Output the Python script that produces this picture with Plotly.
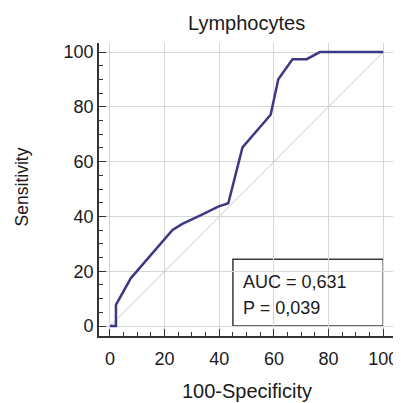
import plotly.graph_objects as go

# ROC curve data (100-Specificity, Sensitivity)
fpr = [0, 2.2, 2.2, 7.6, 22.9, 26.5, 33.5, 39.6, 43.3, 48.5, 58.8, 61.6, 66.8, 72.0, 76.8, 100]
sens = [0, 0, 7.7, 17.4, 35.1, 37.3, 40.6, 43.6, 44.8, 65.2, 77.1, 90.1, 97.4, 97.4, 100, 100]
diag = [0, 100]
tick_vals = [0, 20, 40, 60, 80, 100]
auc_text = "AUC = 0,631"
p_text = "P = 0,039"
title_text = "Lymphocytes"
x_title = "100-Specificity"
y_title = "Sensitivity"

FONT = "Liberation Sans, Arial, sans-serif"
TXT = "#1a1a1a"

# the page body has an 8px margin; figure coords = page coords - 8
OFF = 8
W, H = 401 - OFF, 403 - OFF
L, T = 99 - OFF, 43 - OFF
R = W - (395 - OFF)
B = H - (336 - OFF)
pw, ph = W - L - R, H - T - B

def px_x(page_x):
    return (page_x - OFF - L) / pw

def px_y(page_y):
    return (H - (page_y - OFF) - B) / ph

fig = go.Figure()
fig.add_trace(go.Scatter(x=diag, y=diag, mode="lines",
                         line=dict(color="#c8c8c8", width=1), hoverinfo="skip"))
fig.add_trace(go.Scatter(x=fpr, y=sens, mode="lines",
                         line=dict(color="#3d3a85", width=2.5)))

fig.add_shape(type="rect", x0=45, x1=100, y0=0, y1=24.4, xref="x", yref="y",
              line=dict(color="#3a3a3a", width=1.5), fillcolor="white", layer="below")
fig.add_annotation(x=48, y=16.2, xref="x", yref="y", text=auc_text, showarrow=False,
                   xanchor="left", yanchor="middle", font=dict(size=18, color=TXT, family=FONT))
fig.add_annotation(x=48, y=6.6, xref="x", yref="y", text=p_text, showarrow=False,
                   xanchor="left", yanchor="middle", font=dict(size=18, color=TXT, family=FONT))

fig.add_annotation(x=px_x(246.6), y=px_y(391), xref="paper", yref="paper",
                   text=x_title, showarrow=False, xanchor="center", yanchor="middle",
                   font=dict(size=20, color=TXT, family=FONT))
fig.add_annotation(x=px_x(21.7), y=px_y(186.7), xref="paper", yref="paper",
                   text=y_title, showarrow=False, textangle=-90, xanchor="center", yanchor="middle",
                   font=dict(size=17.5, color=TXT, family=FONT))

axis_common = dict(
    tickvals=tick_vals, ticks="inside", ticklen=7, tickwidth=1.2, tickcolor="#333",
    showline=True, linecolor="#333", linewidth=1.8, showgrid=True, gridcolor="#d6d6d6",
    gridwidth=1, zeroline=False, automargin=False,
    tickfont=dict(size=18, color=TXT, family=FONT),
    minor=dict(dtick=5, ticks="inside", ticklen=4, tickwidth=1.2, tickcolor="#333", showgrid=False),
)
fig.update_xaxes(range=[-4, 104.3], ticklabelstandoff=5, **axis_common)
fig.update_yaxes(range=[-3.65, 103.3], **axis_common)

fig.update_layout(
    width=W, height=H, margin=dict(l=L, r=R, t=T, b=B, autoexpand=False),
    plot_bgcolor="white", paper_bgcolor="white", showlegend=False,
    title=dict(text=title_text, x=px_x(246.6), xref="paper", y=1 - (23 - OFF) / H, yref="container",
               xanchor="center", yanchor="middle", font=dict(size=20, color=TXT, family=FONT)),
)
fig.write_html("out.html")
